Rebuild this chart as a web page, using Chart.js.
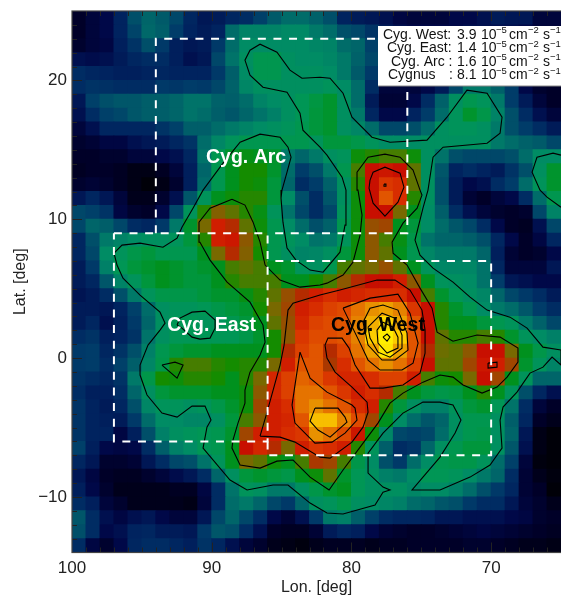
<!DOCTYPE html>
<html>
<head>
<meta charset="utf-8">
<title>Cygnus</title>
<script src="https://cdn.jsdelivr.net/npm/chart.js@4"></script>
<style>
  html, body { margin: 0; padding: 0; background: #fff; }
  canvas { display: block; }
</style>
</head>
<body>
<canvas id="chart" width="561" height="597"></canvas>
<script>
// map values, top row (lat 24-25) first, columns from lon 100 down to 65
const heatRows = [
  [5,8,10,17,30,36,33,28,18,14,15,18,20,26,33,38,38,35,30,17,15,14,12,9,8,8,8,10,10,12,15,14,14,8,8],
  [5,8,10,17,27,37,34,25,17,15,17,38,45,45,45,47,47,42,38,30,28,22,15,12,10,10,10,10,12,12,12,12,10,8,8],
  [6,8,9,16,22,30,24,16,14,15,24,38,48,48,48,48,48,46,45,38,36,26,15,12,10,10,10,10,12,12,12,12,10,8,8],
  [12,11,12,15,18,20,20,16,12,14,28,40,50,55,55,50,48,48,46,42,35,28,15,12,10,10,12,14,14,14,14,12,10,8,6],
  [20,18,17,16,16,17,18,17,17,17,24,34,48,55,55,50,50,50,48,42,33,24,12,10,10,10,14,20,24,24,20,14,8,6,5],
  [20,22,21,20,20,20,24,23,25,24,28,35,46,50,50,50,50,50,52,48,38,20,8,8,8,10,15,28,42,42,35,25,10,6,5],
  [14,26,30,32,32,34,34,36,40,40,35,34,38,45,48,50,54,57,60,50,38,15,7,7,10,20,35,50,55,52,42,25,15,8,5],
  [12,20,26,28,32,34,34,36,40,38,34,32,36,40,44,50,54,58,60,50,42,18,10,10,17,25,38,52,60,56,45,30,20,12,8],
  [8,12,18,18,18,18,22,26,34,34,38,42,45,48,50,52,55,58,60,50,46,38,28,28,30,38,50,52,52,50,42,30,25,20,15],
  [6,7,9,9,12,14,15,18,22,38,46,52,55,55,55,55,55,52,58,58,56,52,48,48,48,50,50,50,50,50,42,38,35,33,28],
  [5,5,6,6,8,8,10,12,18,40,55,60,63,62,60,42,36,42,50,52,64,66,68,68,64,50,40,30,28,28,28,30,38,48,48],
  [4,5,5,4,2,2,4,8,16,36,55,62,65,65,60,38,25,30,42,55,68,80,81,80,70,50,32,17,20,17,15,22,30,50,60],
  [6,7,6,4,2,0,2,6,16,38,55,62,65,64,58,36,20,25,35,50,66,80,85,84,70,50,30,15,10,12,20,25,38,52,60],
  [14,18,14,8,3,3,6,12,32,52,62,64,66,66,58,48,30,20,32,50,64,80,88,84,66,50,30,15,7,5,8,10,20,38,55],
  [28,26,22,9,6,5,10,28,52,66,73,70,66,63,52,40,28,20,28,52,64,80,80,72,62,48,34,20,12,8,6,5,6,28,45],
  [28,36,34,28,20,18,24,42,60,72,82,78,70,64,55,48,38,30,35,55,64,75,76,62,58,48,38,32,28,20,10,5,4,12,28],
  [18,30,42,45,48,50,50,52,58,66,82,81,74,66,55,52,48,40,42,52,64,74,68,63,56,40,36,36,34,30,18,10,5,9,18],
  [18,28,48,52,56,58,55,55,55,62,72,78,73,65,55,50,45,46,50,58,64,74,70,62,55,46,42,42,42,36,16,7,5,6,10],
  [15,24,44,54,58,60,62,60,58,60,62,68,70,68,62,60,52,50,55,68,70,72,75,70,62,52,46,46,46,40,18,8,8,8,14],
  [15,18,32,45,52,58,62,60,58,58,62,66,68,68,68,62,62,65,68,74,78,80,80,82,74,62,52,50,48,40,25,14,12,10,10],
  [13,15,20,30,42,52,56,56,56,58,60,60,63,66,70,75,78,82,84,82,83,84,84,84,80,68,60,54,50,46,36,28,24,20,15],
  [15,15,14,17,26,38,50,52,52,54,56,58,60,65,72,76,82,84,86,87,90,92,93,91,85,80,66,60,55,48,42,38,32,25,20],
  [15,18,12,16,24,36,50,54,54,52,52,55,58,62,70,75,83,86,87,88,91,94,97,93,88,80,66,62,62,58,55,52,42,35,28],
  [20,22,16,17,22,40,50,54,54,54,54,54,56,60,65,74,85,87,87,88,91,96,100,96,88,80,70,66,66,68,66,60,52,48,44],
  [24,25,18,22,30,44,55,58,60,60,62,62,62,62,65,78,86,88,78,86,90,93,99,93,88,78,71,70,74,80,80,72,62,56,50],
  [24,25,20,26,34,46,56,66,68,68,66,65,66,66,72,82,88,88,77,84,88,90,92,90,86,80,70,70,76,81,82,76,60,52,45],
  [22,20,18,22,42,56,65,64,66,66,65,62,66,72,83,86,89,88,85,83,83,84,86,86,82,68,64,65,72,80,76,62,52,36,36],
  [20,16,16,20,36,50,58,60,60,60,62,62,64,74,83,86,90,90,88,85,82,84,78,68,62,58,56,57,62,66,62,52,30,18,12],
  [22,17,15,18,30,46,52,52,50,52,56,60,64,76,82,84,90,92,90,88,84,82,66,58,50,44,44,52,58,60,54,40,20,8,5],
  [22,17,16,15,24,38,48,48,46,46,50,58,68,74,82,83,88,95,95,91,87,76,62,48,38,32,36,50,55,55,50,34,18,5,3],
  [22,17,17,9,16,30,44,50,52,54,55,60,76,82,82,84,85,92,90,87,81,64,46,28,26,28,38,50,55,56,50,36,14,2,0],
  [26,16,10,9,10,20,34,44,48,54,55,62,80,83,78,72,82,85,84,82,66,52,34,20,22,36,50,55,58,58,50,32,12,2,0],
  [18,14,6,6,7,14,20,28,30,40,52,62,72,70,64,62,68,77,76,68,56,48,30,24,38,48,55,56,56,52,38,26,8,1,0],
  [14,9,5,4,4,6,8,11,14,20,36,50,58,60,58,56,62,64,70,60,54,50,44,42,48,54,54,52,48,42,36,20,7,3,1],
  [16,10,6,3,3,3,3,4,4,9,20,40,52,50,42,42,50,56,60,62,54,50,50,50,46,48,48,44,38,30,24,18,7,5,0],
  [20,16,8,6,3,3,3,3,2,8,20,38,42,36,28,24,36,50,52,56,50,48,46,44,38,36,32,30,24,20,20,14,8,6,3],
  [32,20,12,9,12,14,10,8,8,14,28,36,28,20,10,7,12,24,42,44,34,26,20,18,18,17,14,14,12,12,12,10,9,6,5],
  [30,20,10,12,17,18,15,15,14,24,32,30,20,12,5,4,4,7,15,18,16,10,7,6,5,5,6,7,8,9,8,7,6,5,4],
  [20,9,6,10,18,20,20,18,16,22,18,12,8,6,3,2,1,3,4,4,4,3,4,4,5,5,5,5,6,6,5,4,3,3,2]
];

const colorStops = [
  [0,0,0,8],[5,0,0,40],[10,0,8,72],[17,0,35,95],[25,0,60,105],[33,0,90,105],[40,0,115,105],
  [48,0,140,100],[54,0,150,85],[58,0,150,60],[62,0,145,30],[65,20,140,0],[68,70,125,0],
  [72,120,105,0],[76,160,70,0],[80,200,15,0],[84,215,45,0],[88,225,85,0],[92,232,145,0],
  [96,252,205,0],[100,255,238,0]
];

const lonTicks = [100, 90, 80, 70];
const latTicks = [-10, 0, 10, 20];

// contours as [lon, lat]
const contourOuter = [[96.99,7.56],[96.42,8.14],[95.13,8.28],[93.49,7.99],[92.48,8.64],[92.13,9.43],[91.34,10.8],[90.62,12.1],[89.19,14.04],[87.97,15.55],[86.54,16.13],[85.11,15.91],[84.54,15.19],[84.32,14.47],[84.61,13.39],[84.97,12.1],[85.04,11.52],[84.9,9.79],[84.61,7.92],[83.97,7.06],[82.96,6.34],[82.03,6.19],[80.82,7.63],[80.46,9.58],[80.39,12.1],[80.67,13.03],[81.75,14.62],[82.25,15.19],[83.47,16.42],[83.68,17.64],[84.61,19.15],[86.33,19.51],[87.26,20.38],[87.62,21.46],[87.26,22.18],[86.54,22.61],[85.33,22.03],[84.4,20.74],[83.54,20.16],[82.25,20.23],[81.53,20.16],[80.6,19.08],[79.96,17.35],[78.53,15.91],[77.24,15.55],[74.59,15.7],[73.16,17.35],[71.73,19.3],[70.29,19.08],[69.22,17.35],[69.36,16.2],[70.29,15.48],[73.44,15.19],[74.16,14.47],[74.52,12.1],[74.88,10.8],[75.45,8.5],[75.09,7.42],[74.16,6.48],[72.73,5.47],[71.51,4.39],[70.29,3.46],[68.65,2.95],[67.43,2.16],[66.29,0.79],[65,0.58],[65,-0.5],[65.64,0.07],[66.29,-0.65],[67.22,-1.08],[68.15,-2.45],[69.15,-3.53],[69.36,-4.46],[69.22,-6.48],[70.08,-7.7],[71.51,-8.57],[73.66,-9.5],[75.66,-9.5],[74.88,-8.57],[73.66,-7.13],[72.58,-5.4],[72.16,-4.46],[72.73,-3.38],[73.66,-3.17],[74.88,-3.17],[76.31,-3.96],[77.74,-5.4],[78.81,-6.84],[78.81,-8.28],[77.74,-9.29],[77.24,-9.5],[77.74,-9.65],[78.31,-10.58],[80.6,-11.23],[81.75,-11.16],[82.96,-10.44],[84.54,-9.14],[85.61,-9.14],[87.47,-9.5],[88.69,-8.78],[90.62,-6.48],[90.34,-4.97],[90.05,-4.46],[90.48,-3.46],[91.41,-3.46],[92.48,-4.25],[93.56,-3.96],[94.63,-2.66],[95.13,-1.22],[95.13,-0.5],[94.56,0.94],[93.7,2.02],[93.34,2.52],[93.7,3.31],[95.13,4.54],[96.35,5.76],[96.78,6.7]];
const contourEastRing = [[92.48,2.38],[92.27,2.88],[91.41,3.31],[90.48,3.38],[89.76,2.74],[89.76,2.16],[90.12,1.44],[90.84,1.37],[91.41,1.51],[92.13,2.16]];
const contourSecond = [[88.55,11.45],[87.62,11.02],[87.04,9.79],[86.54,8.35],[86.18,6.7],[85.11,5.62],[83.68,5.11],[82.25,5.26],[81.75,5.4],[80.6,5.98],[79.89,6.91],[79.38,8.86],[79.24,10.3],[79.53,12.1],[79.6,13.39],[78.81,14.47],[77.6,14.69],[76.52,14.47],[75.59,13.54],[75.09,12.1],[74.95,11.74],[75.3,10.8],[76.31,9.72],[77.09,8.35],[77.02,7.56],[76.02,6.7],[75.09,5.04],[74.23,3.6],[73.87,1.87],[72.73,1.22],[71.01,1.66],[69.36,1.51],[68.08,0.72],[68.08,-0.29],[68.86,-1.37],[69.58,-2.09],[70.65,-2.52],[72.01,-1.94],[72.73,-1.37],[73.66,-1.22],[74.88,-1.73],[76.31,-2.52],[77.24,-3.24],[78.1,-4.68],[79.38,-6.41],[80.6,-8.06],[81.6,-9.5],[82.96,-8.57],[84.18,-7.34],[85.33,-7.42],[86.54,-7.92],[87.97,-7.7],[88.55,-6.48],[88.48,-5.9],[88.12,-4.68],[87.62,-3.24],[87.62,-2.3],[87.26,-1.01],[86.54,0.22],[86.18,1.15],[86.33,2.38],[87.26,4.03],[88.9,5.47],[90.12,7.06],[90.84,8.35],[90.91,9.79],[90.12,10.8]];
const contourThird = [[86.54,-5.62],[86.04,-3.89],[85.11,-0.5],[84.82,0.94],[84.54,3.46],[84.18,3.96],[82.25,4.54],[80.82,4.9],[78.17,5.62],[76.88,5.62],[75.81,4.9],[74.95,3.46],[74.73,2.02],[74.73,0.36],[75.09,-1.08],[76.31,-1.94],[77.74,-2.16],[78.67,-2.16],[79.74,-0.5],[80.17,0.72],[80.67,1.44],[81.68,1.44],[81.89,0.94],[81.75,0],[81.17,-1.01],[79.96,-2.09],[78.88,-3.17],[78.81,-3.89],[79.17,-4.97],[79.96,-6.05],[81.53,-7.2],[82.25,-7.13],[84.04,-6.05],[85.11,-5.69]];
const contourLobe = [[83.68,0.43],[82.96,-1.44],[81.75,-2.45],[79.96,-3.38],[79.74,-3.6],[79.6,-4.46],[80.46,-5.4],[81.39,-6.05],[82.61,-6.12],[84.04,-4.68],[84.25,-3.38],[84.04,-1.94]];
const contourLobeInner = [[82.61,-3.6],[80.96,-3.6],[80.46,-4.25],[80.32,-4.61],[81.53,-5.69],[82.39,-5.18],[82.96,-4.54]];
const contourWest1 = [[80.6,3.6],[78.67,4.32],[76.67,4.61],[75.81,3.24],[75.23,1.08],[75.59,-0.36],[76.38,-0.86],[77.95,-0.86],[78.81,-0.14],[79.38,1.08]];
const contourWest2 = [[79.17,2.59],[78.67,3.6],[77.74,3.82],[76.67,3.46],[76.02,1.8],[75.95,0.58],[76.88,-0.14],[77.81,-0.14],[78.81,0.94]];
const contourWest3 = [[78.81,2.23],[77.81,3.24],[76.88,2.88],[76.38,1.66],[76.38,0.72],[77.24,0.07],[78.1,0.43],[78.67,1.44]];
const contourWest4 = [[78.17,2.02],[77.74,2.59],[77.02,2.23],[76.67,1.51],[76.67,0.72],[77.45,0.36],[78.1,1.08]];
const contourWest5 = [[77.74,1.51],[77.45,1.73],[77.24,1.51],[77.45,1.22]];
const contourTop = [[78.67,12.82],[78.45,13.39],[77.6,13.75],[76.52,13.32],[76.24,12.31],[76.67,11.23],[77.6,10.22],[78.45,11.16],[78.74,12.24]];
const contourTopDot = [[77.67,12.53],[77.53,12.53],[77.53,12.38],[77.67,12.38]];
const contourSmallEast = [[93.56,-0.5],[92.63,-0.29],[92.05,-0.5],[92.48,-1.44]];
const contourSmallWest = [[70.22,-0.36],[69.58,-0.29],[69.58,-0.65],[70.22,-0.72]];
const contourRightEdge = [[65,14.62],[65.57,14.76],[66.72,14.47],[67.07,13.39],[66.5,12.1],[66,11.59],[65,10.87]];

// dashed region outlines as [lon, lat]; shared edges are drawn once
const boxEast = [[97,9],[86,9],[86,-6],[97,-6],[97,9]];
const boxArc = [[94,9],[94,23],[76,23],[76,9],[86,9]];
const boxWest = [[86,-6],[86,-7],[70,-7],[70,7],[86,7]];

const regionNames = ["Cyg. Arc", "Cyg. East", "Cyg. West"];
const regionLon = [87.54, 90.01, 78.1];
const regionLat = [14.04, 1.94, 1.94];
const regionColors = ["#fff", "#fff", "#000"];

const fluxNames = ["Cyg. West:", "Cyg. East:", "Cyg. Arc :", "Cygnus"];
const fluxValues = ["3.9", "1.4", "1.6", "8.1"];

function heatColor(v) {
  for (let i = 1; i < colorStops.length; i++) {
    if (v <= colorStops[i][0]) {
      const a = colorStops[i - 1];
      const b = colorStops[i];
      const t = (v - a[0]) / (b[0] - a[0]);
      const c = [1, 2, 3].map((k) => Math.round(a[k] + (b[k] - a[k]) * t));
      return `rgb(${c[0]},${c[1]},${c[2]})`;
    }
  }
  return "rgb(255,238,0)";
}

const heatPoints = [];
const heatColors = [];
heatRows.forEach((row, j) => {
  row.forEach((v, i) => {
    heatPoints.push({ x: 99.5 - i, y: 24.5 - j });
    heatColors.push(heatColor(v));
  });
});

function contourSet(points, closed) {
  const data = points.map((p) => ({ x: p[0], y: p[1] }));
  if (closed) data.push(data[0]);
  return {
    data: data,
    showLine: true,
    pointRadius: 0,
    borderColor: "#000",
    borderWidth: 1.1,
    tension: 0,
    order: 2,
    clip: 0,
  };
}

function boxSet(points) {
  return {
    data: points.map((p) => ({ x: p[0], y: p[1] })),
    showLine: true,
    pointRadius: 0,
    borderColor: "#fff",
    borderWidth: 2,
    borderDash: [8, 7.6],
    tension: 0,
    order: 1,
    clip: 0,
  };
}

const frameAndLabels = {
  id: "frameAndLabels",
  afterDatasetsDraw(chart) {
    const { ctx, chartArea: area, scales } = chart;
    ctx.save();

    // region names
    ctx.textAlign = "center";
    ctx.textBaseline = "alphabetic";
    ctx.font = "bold 19.5px 'Liberation Sans'";
    regionNames.forEach((name, i) => {
      ctx.fillStyle = regionColors[i];
      ctx.fillText(name, scales.x.getPixelForValue(regionLon[i]), scales.y.getPixelForValue(regionLat[i]));
    });

    // inward ticks, one per degree, long ones on the labelled values
    ctx.strokeStyle = "#222";
    ctx.lineWidth = 1;
    ctx.beginPath();
    for (let lon = 66; lon < 100; lon++) {
      const x = Math.round(scales.x.getPixelForValue(lon)) + 0.5;
      const len = lonTicks.includes(lon) ? 10 : 5;
      ctx.moveTo(x, area.bottom);
      ctx.lineTo(x, area.bottom - len);
      ctx.moveTo(x, area.top);
      ctx.lineTo(x, area.top + len);
    }
    for (let lat = -13; lat < 25; lat++) {
      const y = Math.round(scales.y.getPixelForValue(lat)) + 0.5;
      const len = latTicks.includes(lat) ? 10 : 5;
      ctx.moveTo(area.left, y);
      ctx.lineTo(area.left + len, y);
    }
    ctx.stroke();

    ctx.strokeStyle = "#444";
    ctx.lineWidth = 1.2;
    ctx.strokeRect(area.left, area.top, area.right - area.left + 2, area.bottom - area.top);

    // flux box
    ctx.fillStyle = "#fff";
    ctx.fillRect(378, 26, 183, 60);
    ctx.strokeStyle = "#888";
    ctx.lineWidth = 1;
    ctx.beginPath();
    ctx.moveTo(378, 86);
    ctx.lineTo(561, 86);
    ctx.stroke();

    const nameX = [383, 387, 391, 388];
    ctx.textAlign = "left";
    ctx.fillStyle = "#111";
    fluxNames.forEach((name, i) => {
      const y = 38.5 + i * 13.6;
      ctx.font = "14px 'Liberation Sans'";
      ctx.fillText(name, nameX[i], y);
      if (i === 3) ctx.fillText(":", 449, y);
      ctx.fillText(fluxValues[i], 457, y);
      ctx.fillText("10", 481, y);
      ctx.fillText("cm", 509, y);
      ctx.fillText("s", 543, y);
      ctx.font = "9.5px 'Liberation Sans'";
      ctx.fillText("\u22125", 496, y - 5.5);
      ctx.fillText("\u22122", 528, y - 5.5);
      ctx.fillText("\u22121", 550, y - 5.5);
    });
    ctx.restore();
  },
};

new Chart(document.getElementById("chart"), {
  type: "scatter",
  data: {
    datasets: [
      {
        data: heatPoints,
        pointStyle: "rect",
        pointRadius: 10.5,
        pointBorderWidth: 0,
        pointBorderColor: heatColors,
        pointBackgroundColor: heatColors,
        showLine: false,
        order: 3,
        clip: 0,
      },
      contourSet(contourOuter, true),
      contourSet(contourEastRing, true),
      contourSet(contourSecond, true),
      contourSet(contourThird, true),
      contourSet(contourLobe, true),
      contourSet(contourLobeInner, true),
      contourSet(contourWest1, true),
      contourSet(contourWest2, true),
      contourSet(contourWest3, true),
      contourSet(contourWest4, true),
      contourSet(contourWest5, true),
      contourSet(contourTop, true),
      contourSet(contourTopDot, true),
      contourSet(contourSmallEast, true),
      contourSet(contourSmallWest, true),
      contourSet(contourRightEdge, false),
      boxSet(boxEast),
      boxSet(boxArc),
      boxSet(boxWest),
    ],
  },
  options: {
    responsive: false,
    animation: false,
    layout: { autoPadding: false, padding: { top: 11, right: 0, left: 0, bottom: 0 } },
    plugins: { legend: { display: false }, tooltip: { enabled: false } },
    events: [],
    scales: {
      x: {
        type: "linear",
        reverse: true,
        min: 65,
        max: 100,
        afterBuildTicks: (scale) => {
          scale.ticks = lonTicks.map((v) => ({ value: v }));
        },
        afterFit: (scale) => {
          scale.height = 44.5;
          scale.paddingLeft = 0;
          scale.paddingRight = 0;
        },
        grid: { display: false, drawTicks: false },
        border: { display: false },
        ticks: {
          color: "#222",
          font: { family: "'Liberation Sans'", size: 17 },
          maxRotation: 0,
          padding: 6,
        },
        title: {
          display: true,
          text: "Lon. [deg]",
          color: "#222",
          font: { family: "'Liberation Sans'", size: 16 },
          padding: { top: -2, bottom: 0 },
        },
      },
      y: {
        type: "linear",
        min: -14,
        max: 25,
        afterBuildTicks: (scale) => {
          scale.ticks = latTicks.map((v) => ({ value: v }));
        },
        afterFit: (scale) => {
          scale.width = 72;
          scale.paddingTop = 0;
          scale.paddingBottom = 0;
        },
        grid: { display: false, drawTicks: false },
        border: { display: false },
        ticks: {
          color: "#222",
          font: { family: "'Liberation Sans'", size: 17 },
          padding: 5,
          callback: (v) => (v < 0 ? "\u2212" + Math.abs(v) : String(v)),
        },
        title: {
          display: true,
          text: "Lat. [deg]",
          color: "#222",
          font: { family: "'Liberation Sans'", size: 16 },
          padding: { top: 11, bottom: 0 },
        },
      },
    },
  },
  plugins: [frameAndLabels],
});
</script>
</body>
</html>
